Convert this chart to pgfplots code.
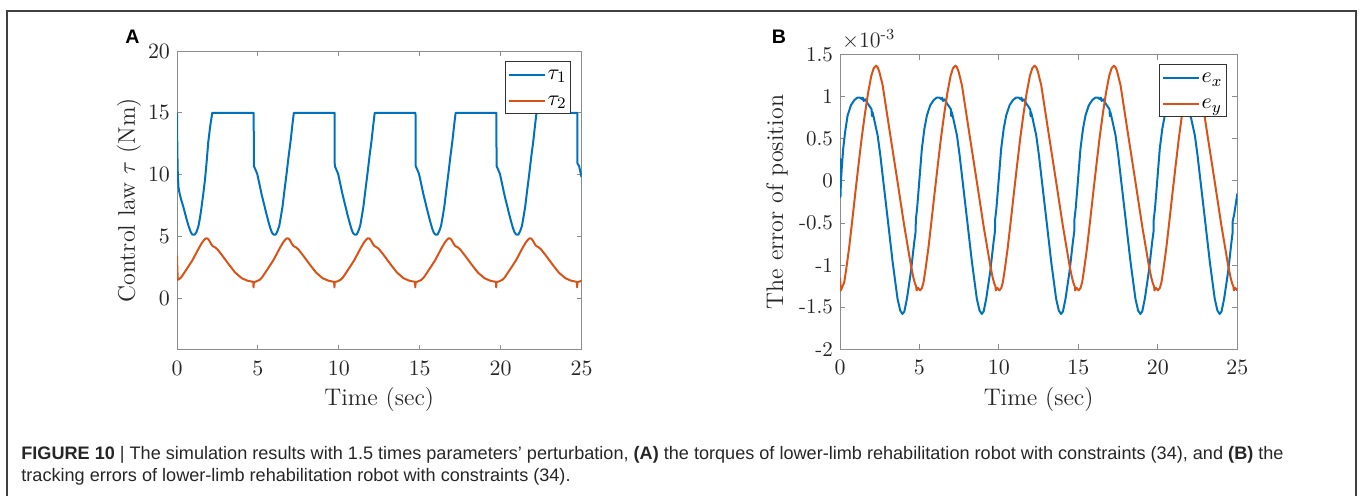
\documentclass[border=0pt]{standalone}
\usepackage{fontspec}
\usepackage{pgfplots}
\pgfplotsset{compat=1.18}
\newfontfamily\capfont{Liberation Sans}
\definecolor{mblue}{RGB}{0,114,189}
\definecolor{morange}{RGB}{217,83,25}
\pgfplotsset{
  mystyle/.style={
    scale only axis, anchor=south west,
    xmin=0, xmax=25, xtick={0,5,10,15,20,25},
    axis line style={black!45, line width=0.5pt},
    every tick/.style={black!45, line width=0.5pt},
    tick align=inside, major tick length=2.5pt,
    tick label style={font=\fontsize{10.5}{12}\selectfont, text=black!85},
    xticklabel style={yshift=-2.25pt},
    label style={font=\fontsize{12}{14}\selectfont, text=black!85},
    xlabel={Time (sec)},
    scaled ticks=false,
    every axis plot/.append style={line width=1pt, line join=round},
    legend cell align=left,
    legend image code/.code={\draw[##1] (0pt,0pt) -- (18pt,0pt);},
    legend style={at={(1,1)}, anchor=north east, draw=black!80, line width=0.6pt,
      fill=white, inner xsep=1pt, inner ysep=2pt, row sep=4pt,
      nodes={inner xsep=0.9pt, inner ysep=0pt, text height=7pt, text depth=2pt},
      font=\fontsize{11}{12}\selectfont},
  }
}
\begin{document}
\begin{tikzpicture}
\path[use as bounding box] (0,0) rectangle (680pt,247.5pt);
\draw[black!75, line width=0.7pt] (3.5pt,-2pt) -- (3.5pt,242pt) -- (678pt,242pt) -- (678pt,-2pt);
% panel letters
\node[anchor=base west, inner sep=0pt, font=\capfont\bfseries\fontsize{9.8}{11}\selectfont] at (62.5pt,225.85pt) {A};
\node[anchor=base west, inner sep=0pt, font=\capfont\bfseries\fontsize{9.8}{11}\selectfont] at (385.75pt,225.85pt) {B};
\node[anchor=base west, inner sep=0pt, font=\fontsize{11}{13}\selectfont, text=black!85] at (420.85pt,224pt) {$\times$10\textsuperscript{-3}};
% caption
\node[anchor=base west, inner sep=0pt, font=\capfont\fontsize{9.05}{11}\selectfont, text=black!85] at (10.5pt,17.85pt)
 {\textbf{FIGURE 10} | The simulation results with 1.5 times parameters’ perturbation, \textbf{(A)} the torques of lower-limb rehabilitation robot with constraints (34), and \textbf{(B)} the};
\node[anchor=base west, inner sep=0pt, font=\capfont\fontsize{9.05}{11}\selectfont, text=black!85] at (10.5pt,6.75pt)
 {tracking errors of lower-limb rehabilitation robot with constraints (34).};

\begin{axis}[mystyle, at={(88.5pt,72.75pt)}, width=202.25pt, height=149.25pt,
  ymin=-4.15, ymax=20, ytick={0,5,10,15,20},
  ylabel={Control law $\tau$ (Nm)},
  xlabel style={at={(axis description cs:0.5,-0.1256)}, anchor=north, inner sep=0pt},
  ylabel style={at={(axis description cs:-0.1187,0.5)}, anchor=center, inner sep=0pt},
  legend style={xshift=-5.25pt, yshift=-5pt}]
\addplot[mblue] coordinates {
(0,15) (0.02,12) (0.05,10) (0.09,9.0) (0.14,8.6) (0.25,8.0) (0.39,7.4) (0.55,6.6) (0.7,5.9) (0.85,5.35) (0.95,5.15) (1.1,5.15) (1.2,5.35) (1.32,5.8) (1.42,6.5) (1.52,7.4) (1.62,8.4) (1.73,9.6) (1.83,11.0) (1.93,12.6) (2.05,13.9) (2.18,15) (4.74,15)
(4.75,10.7) (4.85,10.4) (4.96,10.05) (5.1,9.2) (5.23,8.4) (5.38,7.6) (5.53,6.8) (5.65,6.2) (5.77,5.65) (5.87,5.3) (5.97,5.15) (6.1,5.15) (6.2,5.4) (6.32,5.85) (6.42,6.6) (6.52,7.4) (6.64,8.7) (6.77,10.05) (6.9,11.5) (7.02,12.7) (7.12,13.9) (7.22,15) (9.74,15)
(9.75,10.7) (9.85,10.4) (9.96,10.05) (10.1,9.2) (10.23,8.4) (10.38,7.6) (10.53,6.8) (10.65,6.2) (10.77,5.65) (10.87,5.3) (10.97,5.15) (11.1,5.15) (11.2,5.4) (11.32,5.85) (11.42,6.6) (11.52,7.4) (11.64,8.7) (11.77,10.05) (11.9,11.5) (12.02,12.7) (12.12,13.9) (12.22,15) (14.74,15)
(14.75,10.7) (14.85,10.4) (14.96,10.05) (15.1,9.2) (15.23,8.4) (15.38,7.6) (15.53,6.8) (15.65,6.2) (15.77,5.65) (15.87,5.3) (15.97,5.15) (16.1,5.15) (16.2,5.4) (16.32,5.85) (16.42,6.6) (16.52,7.4) (16.64,8.7) (16.77,10.05) (16.9,11.5) (17.02,12.7) (17.12,13.9) (17.22,15) (19.74,15)
(19.75,10.7) (19.85,10.4) (19.96,10.05) (20.1,9.2) (20.23,8.4) (20.38,7.6) (20.53,6.8) (20.65,6.2) (20.77,5.65) (20.87,5.3) (20.97,5.15) (21.1,5.15) (21.2,5.4) (21.32,5.85) (21.42,6.6) (21.52,7.4) (21.64,8.7) (21.77,10.05) (21.9,11.5) (22.02,12.7) (22.12,13.9) (22.22,15) (24.74,15)
(24.75,10.9) (24.85,10.7) (24.9,10.4) (25,9.8)
};
\addlegendentry{$\tau_1$}
\addplot[morange] coordinates {
(0,3.45) (0.02,2.4) (0.05,1.5) (0.1,1.52) (0.25,1.67) (0.55,2.26) (0.95,3.06) (1.35,4.05) (1.55,4.5) (1.7,4.75) (1.8,4.85) (1.9,4.82) (2.0,4.65) (2.1,4.4) (2.2,4.22) (2.35,4.12) (2.5,3.95) (2.8,3.45) (3.2,2.74) (3.6,2.07) (4.0,1.62) (4.35,1.42) (4.71,1.32)
(4.73,0.88) (4.75,1.3) (4.9,1.36) (5.1,1.48) (5.25,1.67) (5.55,2.26) (5.95,3.06) (6.35,4.05) (6.55,4.5) (6.7,4.75) (6.8,4.85) (6.9,4.82) (7.0,4.65) (7.1,4.4) (7.2,4.22) (7.35,4.12) (7.5,3.95) (7.8,3.45) (8.2,2.74) (8.6,2.07) (9.0,1.62) (9.35,1.42) (9.71,1.32)
(9.73,0.88) (9.75,1.3) (9.9,1.36) (10.1,1.48) (10.25,1.67) (10.55,2.26) (10.95,3.06) (11.35,4.05) (11.55,4.5) (11.7,4.75) (11.8,4.85) (11.9,4.82) (12.0,4.65) (12.1,4.4) (12.2,4.22) (12.35,4.12) (12.5,3.95) (12.8,3.45) (13.2,2.74) (13.6,2.07) (14.0,1.62) (14.35,1.42) (14.71,1.32)
(14.73,0.88) (14.75,1.3) (14.9,1.36) (15.1,1.48) (15.25,1.67) (15.55,2.26) (15.95,3.06) (16.35,4.05) (16.55,4.5) (16.7,4.75) (16.8,4.85) (16.9,4.82) (17.0,4.65) (17.1,4.4) (17.2,4.22) (17.35,4.12) (17.5,3.95) (17.8,3.45) (18.2,2.74) (18.6,2.07) (19.0,1.62) (19.35,1.42) (19.71,1.32)
(19.73,0.88) (19.75,1.3) (19.9,1.36) (20.1,1.48) (20.25,1.67) (20.55,2.26) (20.95,3.06) (21.35,4.05) (21.55,4.5) (21.7,4.75) (21.8,4.85) (21.9,4.82) (22.0,4.65) (22.1,4.4) (22.2,4.22) (22.35,4.12) (22.5,3.95) (22.8,3.45) (23.2,2.74) (23.6,2.07) (24.0,1.62) (24.35,1.42) (24.71,1.32)
(24.73,0.88) (24.75,1.3) (24.9,1.36) (25,1.42)
};
\addlegendentry{$\tau_2$}
\end{axis}

\begin{axis}[mystyle, at={(420pt,72.85pt)}, width=198.65pt, height=147.3pt,
  ymin=-2, ymax=1.5, ytick={-2,-1.5,-1,-0.5,0,0.5,1,1.5},
  yticklabels={-2,-1.5,-1,-0.5,0,0.5,1,1.5},
  ylabel={The error of position},
  xlabel style={at={(axis description cs:0.5,-0.1273)}, anchor=north, inner sep=0pt},
  ylabel style={at={(axis description cs:-0.1586,0.5)}, anchor=center, inner sep=0pt},
  legend style={xshift=-5.25pt, yshift=-4.75pt}]
\addplot[mblue] coordinates {
(0,0.22) (0.015,0.26) (0.03,-0.19) (0.06,0.0) (0.12,0.18) (0.2,0.38) (0.32,0.58) (0.48,0.78) (0.69,0.9) (0.9,0.96) (1.09,0.99) (1.27,0.99) (1.39,0.97) (1.44,0.99) (1.49,0.95) (1.59,0.97) (1.74,0.92) (1.89,0.88) (1.99,0.85) (2.01,0.77) (2.04,0.82) (2.14,0.74) (2.37,0.54) (2.54,0.3) (2.68,0.07) (3.0,-0.45) (3.31,-0.96) (3.62,-1.4) (3.79,-1.54)
(3.93,-1.58) (4.05,-1.55) (4.21,-1.4) (4.46,-1.08) (4.67,-0.73) (4.76,-0.6) (4.77,-0.46) (4.85,-0.33) (4.94,-0.12) (5.15,0.38) (5.31,0.62) (5.47,0.78) (5.68,0.9) (5.89,0.96) (6.08,0.99) (6.26,0.99) (6.38,0.97) (6.43,0.99) (6.48,0.95) (6.58,0.97) (6.73,0.92) (6.88,0.88) (6.98,0.85) (7.0,0.77) (7.03,0.82) (7.13,0.74) (7.36,0.54) (7.53,0.3) (7.67,0.07) (7.99,-0.45) (8.3,-0.96) (8.61,-1.4) (8.78,-1.54)
(8.92,-1.58) (9.04,-1.55) (9.2,-1.4) (9.45,-1.08) (9.66,-0.73) (9.75,-0.6) (9.76,-0.46) (9.84,-0.33) (9.93,-0.12) (10.14,0.38) (10.3,0.62) (10.46,0.78) (10.67,0.9) (10.88,0.96) (11.07,0.99) (11.25,0.99) (11.37,0.97) (11.42,0.99) (11.47,0.95) (11.57,0.97) (11.72,0.92) (11.87,0.88) (11.97,0.85) (11.99,0.77) (12.02,0.82) (12.12,0.74) (12.35,0.54) (12.52,0.3) (12.66,0.07) (12.98,-0.45) (13.29,-0.96) (13.6,-1.4) (13.77,-1.54)
(13.91,-1.58) (14.03,-1.55) (14.19,-1.4) (14.44,-1.08) (14.65,-0.73) (14.74,-0.6) (14.75,-0.46) (14.83,-0.33) (14.92,-0.12) (15.13,0.38) (15.29,0.62) (15.45,0.78) (15.66,0.9) (15.87,0.96) (16.06,0.99) (16.24,0.99) (16.36,0.97) (16.41,0.99) (16.46,0.95) (16.56,0.97) (16.71,0.92) (16.86,0.88) (16.96,0.85) (16.98,0.77) (17.01,0.82) (17.11,0.74) (17.34,0.54) (17.51,0.3) (17.65,0.07) (17.97,-0.45) (18.28,-0.96) (18.59,-1.4) (18.76,-1.54)
(18.9,-1.58) (19.02,-1.55) (19.18,-1.4) (19.43,-1.08) (19.64,-0.73) (19.73,-0.6) (19.74,-0.46) (19.82,-0.33) (19.91,-0.12) (20.12,0.38) (20.28,0.62) (20.44,0.78) (20.65,0.9) (20.86,0.96) (21.05,0.99) (21.23,0.99) (21.35,0.97) (21.4,0.99) (21.45,0.95) (21.55,0.97) (21.7,0.92) (21.85,0.88) (21.95,0.85) (21.97,0.77) (22.0,0.82) (22.1,0.74) (22.33,0.54) (22.5,0.3) (22.64,0.07) (22.96,-0.45) (23.27,-0.96) (23.58,-1.4) (23.75,-1.54)
(23.89,-1.58) (24.01,-1.55) (24.17,-1.4) (24.42,-1.08) (24.63,-0.73) (24.7,-0.62) (24.71,-0.48) (24.8,-0.4) (24.9,-0.28) (25,-0.15)
};
\addlegendentry{$e_x$}
\addplot[morange] coordinates {
(0,-1.15) (0.05,-1.3) (0.12,-1.27) (0.27,-1.2) (0.39,-1.05) (0.57,-0.8) (0.77,-0.47) (0.97,-0.13) (1.17,0.2) (1.37,0.52) (1.57,0.8) (1.77,1.05) (1.97,1.25) (2.12,1.34) (2.27,1.37) (2.37,1.35) (2.47,1.3) (2.68,1.14) (3.2,0.5) (3.62,-0.01) (4.04,-0.53) (4.46,-1.0) (4.62,-1.15) (4.72,-1.22)
(4.79,-1.25) (4.82,-1.3) (4.91,-1.27) (5.04,-1.3) (5.16,-1.27) (5.26,-1.2) (5.38,-1.05) (5.56,-0.8) (5.76,-0.47) (5.96,-0.13) (6.16,0.2) (6.36,0.52) (6.56,0.8) (6.76,1.05) (6.96,1.25) (7.11,1.34) (7.26,1.37) (7.36,1.35) (7.46,1.3) (7.67,1.14) (8.19,0.5) (8.61,-0.01) (9.03,-0.53) (9.45,-1.0) (9.61,-1.15) (9.71,-1.22)
(9.78,-1.25) (9.81,-1.3) (9.9,-1.27) (10.03,-1.3) (10.15,-1.27) (10.25,-1.2) (10.37,-1.05) (10.55,-0.8) (10.75,-0.47) (10.95,-0.13) (11.15,0.2) (11.35,0.52) (11.55,0.8) (11.75,1.05) (11.95,1.25) (12.1,1.34) (12.25,1.37) (12.35,1.35) (12.45,1.3) (12.66,1.14) (13.18,0.5) (13.6,-0.01) (14.02,-0.53) (14.44,-1.0) (14.6,-1.15) (14.7,-1.22)
(14.77,-1.25) (14.8,-1.3) (14.89,-1.27) (15.02,-1.3) (15.14,-1.27) (15.24,-1.2) (15.36,-1.05) (15.54,-0.8) (15.74,-0.47) (15.94,-0.13) (16.14,0.2) (16.34,0.52) (16.54,0.8) (16.74,1.05) (16.94,1.25) (17.09,1.34) (17.24,1.37) (17.34,1.35) (17.44,1.3) (17.65,1.14) (18.17,0.5) (18.59,-0.01) (19.01,-0.53) (19.43,-1.0) (19.59,-1.15) (19.69,-1.22)
(19.76,-1.25) (19.79,-1.3) (19.88,-1.27) (20.01,-1.3) (20.13,-1.27) (20.23,-1.2) (20.35,-1.05) (20.53,-0.8) (20.73,-0.47) (20.93,-0.13) (21.13,0.2) (21.33,0.52) (21.53,0.8) (21.73,1.05) (21.93,1.25) (22.08,1.34) (22.23,1.37) (22.33,1.35) (22.43,1.3) (22.64,1.14) (23.16,0.5) (23.58,-0.01) (24.0,-0.53) (24.42,-1.0) (24.58,-1.15) (24.68,-1.22)
(24.75,-1.25) (24.78,-1.3) (24.87,-1.27) (25,-1.3)
};
\addlegendentry{$e_y$}
\end{axis}
\end{tikzpicture}
\end{document}
